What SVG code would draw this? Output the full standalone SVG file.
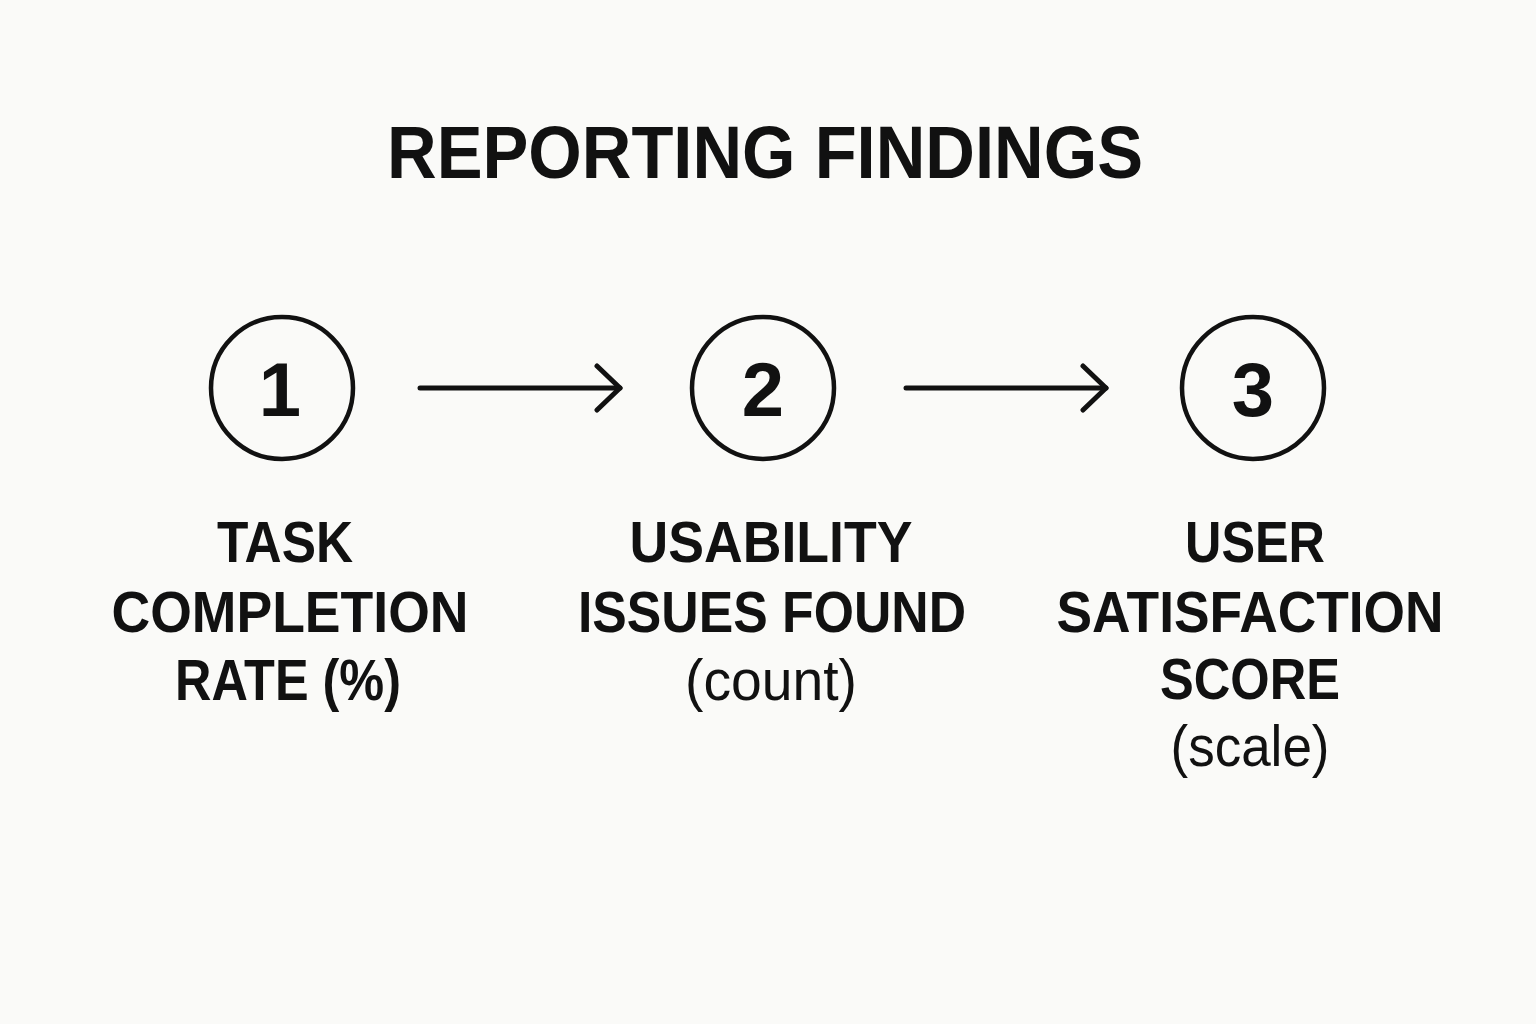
<svg xmlns="http://www.w3.org/2000/svg" width="1536" height="1024" viewBox="0 0 1536 1024">
<defs>
<style>
.bg{fill:#fafaf8}
.t{font-family:"Liberation Sans",Arial,sans-serif;fill:#111;text-anchor:middle}
.title{font-size:75px;font-weight:bold}
.lbl{font-size:57px;font-weight:bold}
.sub{font-size:57px;font-weight:normal}
.num{font-size:76px;font-weight:bold}
.ring{fill:none;stroke:#111;stroke-width:4.5}
.conn{fill:none;stroke:#111;stroke-width:5;stroke-linecap:round;stroke-linejoin:round}
</style>
<marker id="chev" viewBox="0 0 30 50" refX="26" refY="25" markerWidth="30" markerHeight="50" markerUnits="userSpaceOnUse" orient="auto">
<path d="M3,3 L26,25 L3,47" fill="none" stroke="#111" stroke-width="5" stroke-linecap="round" stroke-linejoin="round"/>
</marker>
</defs>
<rect class="bg" width="1536" height="1024"/>
<text class="t title" x="765" y="178" textLength="756" lengthAdjust="spacingAndGlyphs">REPORTING FINDINGS</text>
<g id="connectors">
<line class="conn" x1="420" y1="388" x2="620" y2="388" marker-end="url(#chev)"/>
<line class="conn" x1="906" y1="388" x2="1106" y2="388" marker-end="url(#chev)"/>
</g>
<g id="node1">
<circle class="ring" cx="282" cy="388" r="71"/>
<text class="t num" x="280" y="416">1</text>
<text class="t lbl" x="285" y="562" textLength="136" lengthAdjust="spacingAndGlyphs">TASK</text>
<text class="t lbl" x="290" y="632" textLength="357" lengthAdjust="spacingAndGlyphs">COMPLETION</text>
<text class="t lbl" x="288" y="700" textLength="226" lengthAdjust="spacingAndGlyphs">RATE (%)</text>
</g>
<g id="node2">
<circle class="ring" cx="763" cy="388" r="71"/>
<text class="t num" x="763" y="416">2</text>
<text class="t lbl" x="771" y="562" textLength="283" lengthAdjust="spacingAndGlyphs">USABILITY</text>
<text class="t lbl" x="772" y="632" textLength="388" lengthAdjust="spacingAndGlyphs">ISSUES FOUND</text>
<text class="t sub" x="771" y="700" textLength="172" lengthAdjust="spacingAndGlyphs">(count)</text>
</g>
<g id="node3">
<circle class="ring" cx="1253" cy="388" r="71"/>
<text class="t num" x="1253" y="416">3</text>
<text class="t lbl" x="1255" y="562" textLength="140" lengthAdjust="spacingAndGlyphs">USER</text>
<text class="t lbl" x="1250" y="632" textLength="387" lengthAdjust="spacingAndGlyphs">SATISFACTION</text>
<text class="t lbl" x="1250" y="699" textLength="180" lengthAdjust="spacingAndGlyphs">SCORE</text>
<text class="t sub" x="1250" y="766" textLength="159" lengthAdjust="spacingAndGlyphs">(scale)</text>
</g>
</svg>
